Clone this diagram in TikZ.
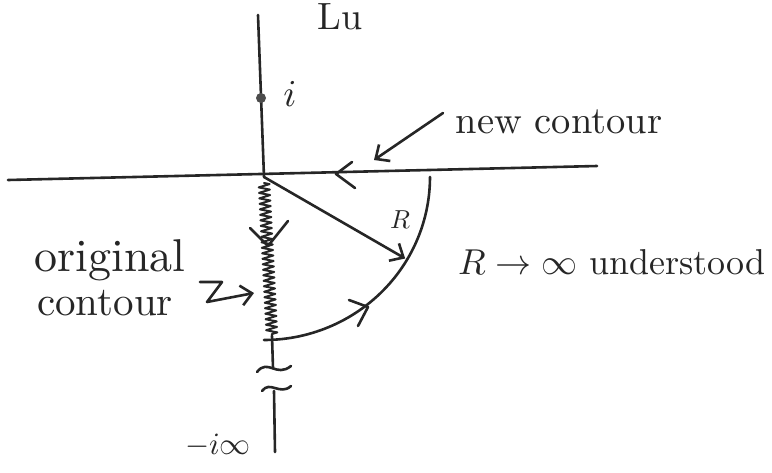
\documentclass[tikz,border=0pt]{standalone}
\usetikzlibrary{arrows.meta,decorations.pathmorphing,calc}
\newcommand\sztxt[2]{\scalebox{#1}{#2}}
\begin{document}
\begin{tikzpicture}[x=1pt,y=-1pt,
  pen/.style={line width=2.6pt,line cap=round,line join=round,black!85},
  barb/.style={-{Straight Barb[length=11pt,width=20pt,line width=2.6pt]}},
  lbl/.style={inner sep=0pt,black!85,font=\fontsize{10}{12}\selectfont}]
\useasboundingbox (0,0) rectangle (772,472);
% coordinates
\coordinate (top) at (258,15);
\coordinate (O) at (264,177);
\coordinate (zend) at (272,340);
\coordinate (brk1) at (273,368);
\coordinate (brk2) at (274,391);
\coordinate (bot) at (275,452);
\coordinate (xl) at (8,180);
\coordinate (xr) at (597,166);
% vertical axis
\draw[pen] (top) -- (O);
\draw[pen,line width=2pt,decorate,decoration={zigzag,segment length=5.5pt,amplitude=5.5pt}] ($(O)+(0,6)$) -- ($(zend)+(0,-4)$);
\draw[pen] ($(zend)+(0,-4)$) -- (brk1);
\draw[pen] (257,372) .. controls (268,358) and (276,378) .. (291,366);
\draw[pen] (262,391) .. controls (270,380) and (280,396) .. (291,386);
\draw[pen] (brk2) -- (bot);
% horizontal axis
\draw[pen] (xl) -- (xr);
% point i
\fill[black!70] (261,98) circle (5pt);
\node[lbl] (ilbl) at (290,94) {\sztxt{3.8}{$i$}};
\node[lbl] (lu) at (340,17) {\sztxt{3.8}{Lu}};
% arc
\draw[pen] plot[domain=90:0,samples=60] ({264+166*cos(\x)},{177+163*sin(\x)});
\draw[pen] (349,300) -- (368,307) -- (358,326);
% radius
\coordinate (rtip) at ({264+163*cos(30)},{177+163*sin(30)});
\draw[pen,barb] (O) -- (rtip);
\node[lbl] (R) at (400,220) {\sztxt{2.6}{$R$}};
% arrow on horizontal axis
\draw[pen] (352,162) -- (336,174) -- (355,188);
% arrow on zigzag
\draw[pen] (250,228) -- (268,246) -- (288,221);
% labels
\node[lbl] (newc) at (559,122) {\sztxt{3.85}{new contour}};
\draw[pen,barb] (443,113) -- (374,160);
\node[lbl] (rinf) at (612,262) {\sztxt{3.6}{$R\to\infty$ understood}};
\node[lbl] (orig) at (110,260) {\sztxt{4.6}{original}};
\node[lbl] (cont) at (105,303) {\sztxt{4.1}{contour}};
\draw[pen,barb] (200,282) -- (222,282) -- (207,302) -- (254,293);
\node[lbl] (minf) at (218,446) {\sztxt{3.1}{$-i\infty$}};
\end{tikzpicture}
\end{document}
